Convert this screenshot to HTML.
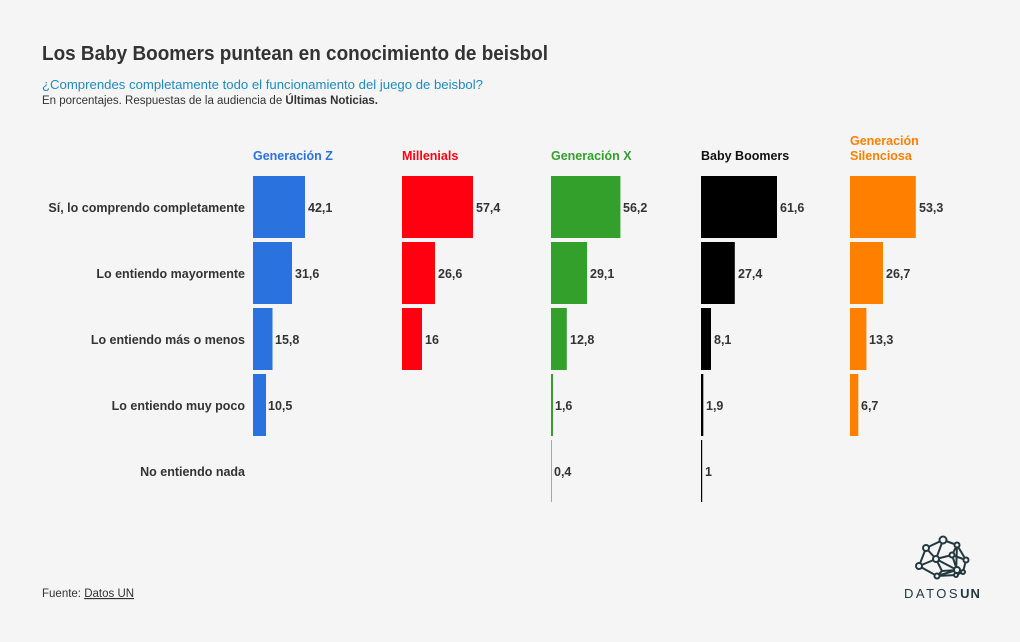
<!DOCTYPE html>
<html><head><meta charset="utf-8"><style>
html,body{margin:0;padding:0;background:#f5f5f5}
svg{display:block;font-family:"Liberation Sans",sans-serif}
.v{font-size:12.5px;font-weight:bold;fill:#333}
.r{font-size:12.5px;font-weight:bold;fill:#333;text-anchor:end}
.h{font-size:12.5px;font-weight:bold}
</style></head><body>
<svg width="1020" height="642" viewBox="0 0 1020 642">
<rect width="1020" height="642" fill="#f5f5f5"/>
<text x="42" y="60" font-size="20" font-weight="bold" fill="#333" textLength="506" lengthAdjust="spacingAndGlyphs">Los Baby Boomers puntean en conocimiento de beisbol</text>
<text x="42" y="89" font-size="13" fill="#1f8ac0" textLength="441" lengthAdjust="spacingAndGlyphs">¿Comprendes completamente todo el funcionamiento del juego de beisbol?</text>
<text x="42" y="104" font-size="11.5" fill="#333" textLength="336" lengthAdjust="spacingAndGlyphs">En porcentajes. Respuestas de la audiencia de <tspan font-weight="bold">Últimas Noticias.</tspan></text>

<text class="h" x="253" y="160" fill="#2a72de">Generación Z</text>
<text class="h" x="402" y="160" fill="#ff0010">Millenials</text>
<text class="h" x="551" y="160" fill="#33a02c">Generación X</text>
<text class="h" x="701" y="160" fill="#111">Baby Boomers</text>
<text class="h" x="850" y="145" fill="#ff8000">Generación</text>
<text class="h" x="850" y="160" fill="#ff8000">Silenciosa</text>

<text class="r" x="245" y="212">Sí, lo comprendo completamente</text>
<text class="r" x="245" y="278">Lo entiendo mayormente</text>
<text class="r" x="245" y="344">Lo entiendo más o menos</text>
<text class="r" x="245" y="410">Lo entiendo muy poco</text>
<text class="r" x="245" y="476">No entiendo nada</text>

<g fill="#2a72de">
<rect x="253" y="176" width="52" height="62"/>
<rect x="253" y="242" width="39" height="62"/>
<rect x="253" y="308" width="19.5" height="62"/>
<rect x="253" y="374" width="13" height="62"/>
</g>
<text class="v" x="308" y="212">42,1</text>
<text class="v" x="295" y="278">31,6</text>
<text class="v" x="275" y="344">15,8</text>
<text class="v" x="268" y="410">10,5</text>

<g fill="#ff0010">
<rect x="402" y="176" width="71" height="62"/>
<rect x="402" y="242" width="33" height="62"/>
<rect x="402" y="308" width="20" height="62"/>
</g>
<text class="v" x="476" y="212">57,4</text>
<text class="v" x="438" y="278">26,6</text>
<text class="v" x="425" y="344">16</text>

<g fill="#33a02c">
<rect x="551" y="176" width="69.4" height="62"/>
<rect x="551" y="242" width="36" height="62"/>
<rect x="551" y="308" width="15.8" height="62"/>
<rect x="551" y="374" width="2" height="62"/>
<rect x="551" y="440" width="0.6" height="62"/>
</g>
<text class="v" x="623" y="212">56,2</text>
<text class="v" x="590" y="278">29,1</text>
<text class="v" x="570" y="344">12,8</text>
<text class="v" x="555" y="410">1,6</text>
<text class="v" x="554" y="476">0,4</text>

<g fill="#000">
<rect x="701" y="176" width="76" height="62"/>
<rect x="701" y="242" width="33.8" height="62"/>
<rect x="701" y="308" width="10" height="62"/>
<rect x="701" y="374" width="2.3" height="62"/>
<rect x="701" y="440" width="1.2" height="62"/>
</g>
<text class="v" x="780" y="212">61,6</text>
<text class="v" x="738" y="278">27,4</text>
<text class="v" x="714" y="344">8,1</text>
<text class="v" x="706" y="410">1,9</text>
<text class="v" x="705" y="476">1</text>

<g fill="#ff8000">
<rect x="850" y="176" width="65.8" height="62"/>
<rect x="850" y="242" width="33" height="62"/>
<rect x="850" y="308" width="16.4" height="62"/>
<rect x="850" y="374" width="8.3" height="62"/>
</g>
<text class="v" x="919" y="212">53,3</text>
<text class="v" x="886" y="278">26,7</text>
<text class="v" x="869" y="344">13,3</text>
<text class="v" x="861" y="410">6,7</text>

<text x="42" y="597" font-size="11.5" fill="#333">Fuente: <tspan text-decoration="underline">Datos UN</tspan></text>

<g stroke="#24393f" stroke-width="2" fill="none">
<path d="M926 548 L943 540 L957 545 L966 560 L963 572 L956 575 L937 576 L919 566 L926 548 Z"/>
<path d="M943 540 L936 559 L919 566 M936 559 L952 555 L957 545 M952 555 L957 570 L963 572 M936 559 L942 571 L937 576 M936 559 L957 570 L937 576 M952 555 L966 560 M942 571 L957 570 M957 545 L956 575 M926 548 L936 559"/>
</g>
<g fill="#f5f5f5" stroke="#24393f" stroke-width="2">
<circle cx="926" cy="548" r="3"/><circle cx="943" cy="540" r="3.5"/><circle cx="957" cy="545" r="2.5"/>
<circle cx="936" cy="559" r="3"/><circle cx="952" cy="555" r="2.5"/><circle cx="919" cy="566" r="3"/>
<circle cx="966" cy="560" r="2.5"/><circle cx="957" cy="570" r="3"/><circle cx="963" cy="572" r="2"/>
<circle cx="937" cy="576" r="2.5"/><circle cx="956" cy="575" r="2"/>
</g>
<text x="904" y="598" font-size="13" fill="#24393f" letter-spacing="2.5">DATOS<tspan font-weight="bold" letter-spacing="1">UN</tspan></text>
</svg>
</body></html>
